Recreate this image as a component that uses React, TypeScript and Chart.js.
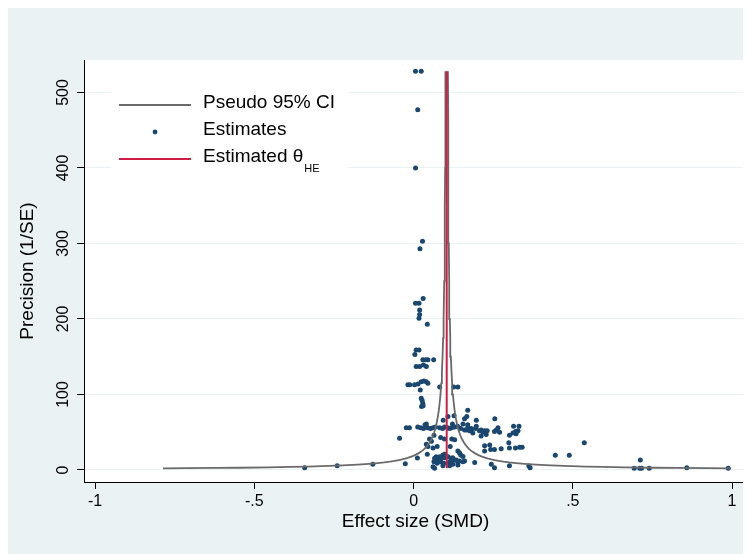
import React, { useEffect, useRef } from "react";
import { Chart, registerables } from "chart.js";

Chart.register(...registerables);

// ---- data ----
const theta = 0.104; // estimated overall effect (HE)
const zCrit = 1.96;

const effectSize = [
  0.006, 0.024, 0.013, 0.006, 0.028, 0.02, 0.03,
  0.006, 0.017, 0.019, 0.019, 0.017, 0.043,
  0.004, 0.008, 0.017,
  0.029, 0.038, 0.045, 0.063,
  0.008, 0.019, 0.04, 0.031,
  -0.018, -0.012, 0.003, 0.014, 0.024, 0.032, 0.04, 0.045,
  0.082, 0.126, 0.139,
  0.021, 0.024, 0.027, 0.029, 0.025, 0.03,
  0.17, 0.127, 0.167, 0.16, 0.197, 0.255, 0.093, 0.108, 0.155, 0.197, 0.122, 0.17,
  -0.023, -0.013, 0.013, 0.022, 0.031, 0.038, 0.044, 0.053, 0.061, 0.069, 0.082, 0.091,
  0.097, 0.107, 0.113, 0.12, 0.129, 0.138, 0.148, 0.16, 0.17, 0.182, 0.195, 0.207,
  0.04, 0.036,
  0.181, 0.176, 0.186, 0.166, 0.212, 0.218, 0.223, 0.231, 0.228, 0.212, 0.26, 0.265, 0.27, 0.254,
  0.314, 0.331, 0.301, 0.32, 0.328, 0.322, 0.312,
  -0.044, 0.05, 0.056, 0.064, 0.04, 0.045, 0.085, 0.097, 0.074, 0.061, 0.12, 0.129, 0.115,
  0.139, 0.144, 0.148, 0.155, 0.16,
  0.223, 0.239, 0.242, 0.223, 0.254, 0.275, 0.299, 0.301, 0.32, 0.333, 0.341,
  0.012, 0.043, 0.536, 0.445, 0.489,
  0.071, 0.082, 0.092, 0.066, 0.076, 0.087, 0.097, 0.108, 0.118, 0.064, 0.074, 0.085, 0.095,
  0.113, 0.123, 0.061, 0.066, 0.092, 0.113, 0.098, 0.123, 0.129, 0.134, 0.139, 0.144, 0.155,
  0.113, 0.123, 0.139,
  0.192, 0.244, 0.254, 0.301, 0.362, 0.366,
  -0.342, -0.24, -0.128, -0.026,
  0.712, 0.693, 0.71, 0.716, 0.74, 0.858, 0.988,
];

const precision = [
  528, 528, 477, 400, 303, 293, 227,
  221, 221, 212, 206, 201, 193,
  153, 159, 159,
  146, 146, 146, 146,
  137, 137, 137, 139,
  113, 113, 113, 114, 117, 118, 117, 115,
  110, 110, 110,
  106, 95, 92, 88, 84, 85,
  79, 72, 71, 68, 66, 68, 66, 71, 61, 58, 61, 60,
  56, 56, 57, 56, 55, 57, 56, 55, 56, 57, 56, 55,
  57, 56, 55, 56, 57, 58, 55, 53, 56, 54, 55, 52,
  61, 60,
  55, 52, 49, 53, 53, 50, 52, 52, 47, 45, 53, 56, 50, 51,
  58, 58, 46, 51, 52, 48, 49,
  42, 41, 38, 46, 34, 31, 43, 41, 31, 29, 41, 40, 31,
  25, 23, 20, 18, 12,
  32, 33, 27, 25, 27, 28, 36, 29, 29, 30, 30,
  16, 21, 36, 19.5, 19.5,
  17.6, 17.6, 19.9, 15.5, 13.3, 15.5, 16.3, 17.6, 15.5, 11, 8.9, 11, 8.9,
  11, 13.3, 4.4, 2.3, 5.7, 5.7, 21, 16.3, 13.3, 13.3, 10.2, 11.9, 11,
  8.9, 7.6, 6.6,
  10, 7.6, 3, 5.7, 5.3, 3,
  3, 5.7, 7.6, 8.4,
  13.3, 2.3, 2.3, 2.3, 2.3, 3, 2.2,
];

// precision levels at which the pseudo 95% CI is traced
const ciPrecision = [
  2.2, 2.4, 2.7, 3, 3.5, 4, 4.5, 5, 6, 7, 8, 9, 10, 11, 12, 13, 14, 15, 16, 18, 20,
  22, 24, 26, 28, 30, 33, 36, 40, 45, 50, 55, 60, 70, 80, 90, 100, 115, 130, 150,
  175, 200, 250, 300, 350, 400, 460, 528,
];

const xTickValues = [-1, -0.5, 0, 0.5, 1];
const xTickLabels = ["-1", "-.5", "0", ".5", "1"];
const yTickValues = [0, 100, 200, 300, 400, 500];
const yTickLabels = ["0", "100", "200", "300", "400", "500"];

const legendLabels = ["Pseudo 95% CI", "Estimates", "Estimated \u03b8"];
const legendSubscript = "HE";
const xTitle = "Effect size (SMD)";
const yTitle = "Precision (1/SE)";

// ---- styles ----
const FONT = "'Liberation Sans', Arial, Helvetica, sans-serif";
const BG = "#eaf2f3";
const POINT_COLOR = "#1a476f";
const CI_COLOR = "#6a6a6a";
const THETA_COLOR = "#cf1d43";

const plotBackground = {
  id: "plotBackground",
  beforeDraw(chart: any) {
    const { ctx, chartArea } = chart;
    ctx.save();
    ctx.fillStyle = "#ffffff";
    ctx.fillRect(chartArea.left, chartArea.top, chartArea.right - chartArea.left, chartArea.bottom - chartArea.top);
    ctx.restore();
  },
};

const customLegend = {
  id: "customLegend",
  afterDraw(chart: any) {
    const { ctx } = chart;
    ctx.save();
    ctx.fillStyle = "#ffffff";
    ctx.fillRect(103, 76, 237, 96);
    const rows = [95, 122, 149];
    // line sample: CI
    ctx.strokeStyle = CI_COLOR;
    ctx.lineWidth = 1.8;
    ctx.beginPath();
    ctx.moveTo(111, rows[0] + 2);
    ctx.lineTo(183, rows[0] + 2);
    ctx.stroke();
    // dot sample
    ctx.fillStyle = POINT_COLOR;
    ctx.beginPath();
    ctx.arc(147, rows[1] + 2, 2.4, 0, Math.PI * 2);
    ctx.fill();
    // theta line sample
    ctx.strokeStyle = THETA_COLOR;
    ctx.lineWidth = 2;
    ctx.beginPath();
    ctx.moveTo(111, rows[2] + 2);
    ctx.lineTo(183, rows[2] + 2);
    ctx.stroke();
    // texts
    ctx.fillStyle = "#000000";
    ctx.font = `19px ${FONT}`;
    ctx.textBaseline = "middle";
    ctx.textAlign = "left";
    ctx.fillText(legendLabels[0], 195, rows[0]);
    ctx.fillText(legendLabels[1], 195, rows[1]);
    ctx.fillText(legendLabels[2], 195, rows[2]);
    const w = ctx.measureText(legendLabels[2]).width;
    ctx.font = `11px ${FONT}`;
    ctx.fillText(legendSubscript, 195 + w + 1, rows[2] + 12);
    ctx.restore();
  },
};

export default function App() {
  const canvasRef = useRef<HTMLCanvasElement | null>(null);

  useEffect(() => {
    if (!canvasRef.current) return;
    Chart.defaults.font.family = FONT;
    const points = effectSize.map((x, i) => ({ x, y: precision[i] }));
    const lower = ciPrecision.map((p) => ({ x: theta - zCrit / p, y: p }));
    const upper = ciPrecision.map((p) => ({ x: theta + zCrit / p, y: p }));
    const thetaLine = [
      { x: theta, y: ciPrecision[0] },
      { x: theta, y: ciPrecision[ciPrecision.length - 1] },
    ];

    const chart = new Chart(canvasRef.current, {
      type: "scatter",
      data: {
        datasets: [
          {
            label: "Estimated theta",
            data: thetaLine,
            showLine: true,
            borderColor: THETA_COLOR,
            borderWidth: 2,
            pointRadius: 0,
            order: 0,
          },
          {
            label: "Pseudo 95% CI lower",
            data: lower,
            showLine: true,
            borderColor: CI_COLOR,
            borderWidth: 1.8,
            pointRadius: 0,
            order: 1,
          },
          {
            label: "Pseudo 95% CI upper",
            data: upper,
            showLine: true,
            borderColor: CI_COLOR,
            borderWidth: 1.8,
            pointRadius: 0,
            order: 1,
          },
          {
            label: "Estimates",
            data: points,
            backgroundColor: POINT_COLOR,
            borderWidth: 0,
            pointRadius: 2.5,
            order: 2,
          },
        ],
      },
      options: {
        animation: false,
        responsive: false,
        devicePixelRatio: 1,
        layout: { padding: { top: 52, right: 4, bottom: 21, left: 0 } },
        plugins: { legend: { display: false }, tooltip: { enabled: false } },
        scales: {
          x: {
            type: "linear",
            min: -1.035,
            max: 1.047,
            afterBuildTicks: (s: any) => {
              s.ticks = xTickValues.map((v) => ({ value: v }));
            },
            afterFit: (s: any) => {
              s.height = 51;
            },
            ticks: {
              callback: (_v: any, i: number) => xTickLabels[i],
              font: { size: 16, family: FONT },
              color: "#000",
              padding: 3,
              autoSkip: false,
              maxRotation: 0,
              minRotation: 0,
            },
            grid: { drawOnChartArea: false, drawTicks: true, tickLength: 7, tickColor: "#000", tickWidth: 1 },
            border: { display: true, color: "#000", width: 1 },
            title: {
              display: true,
              text: xTitle,
              color: "#000",
              font: { size: 19, family: FONT },
              padding: { top: 0, bottom: 0 },
            },
          },
          y: {
            type: "linear",
            min: -15.9,
            max: 543,
            afterBuildTicks: (s: any) => {
              s.ticks = yTickValues.map((v) => ({ value: v }));
            },
            afterFit: (s: any) => {
              s.width = 76;
            },
            ticks: {
              callback: (_v: any, i: number) => yTickLabels[i],
              font: { size: 16, family: FONT },
              color: "#000",
              padding: 0,
              minRotation: 90,
              maxRotation: 90,
              crossAlign: "center",
              autoSkip: false,
            },
            grid: { color: BG, lineWidth: 1, drawTicks: true, tickLength: 7, tickColor: "#000", tickWidth: 1 },
            border: { display: true, color: "#000", width: 1 },
            title: {
              display: true,
              text: yTitle,
              color: "#000",
              font: { size: 19, family: FONT },
              padding: { top: 8, bottom: 0 },
            },
          },
        },
      },
      plugins: [plotBackground, customLegend],
    });
    return () => chart.destroy();
  }, []);

  return (
    <div style={{ width: 743, height: 546, background: BG, position: "relative" }}>
      <style>{"html,body{overflow:hidden}"}</style>
      <canvas ref={canvasRef} width={743} height={546} style={{ display: "block", width: 743, height: 546 }} />
    </div>
  );
}
